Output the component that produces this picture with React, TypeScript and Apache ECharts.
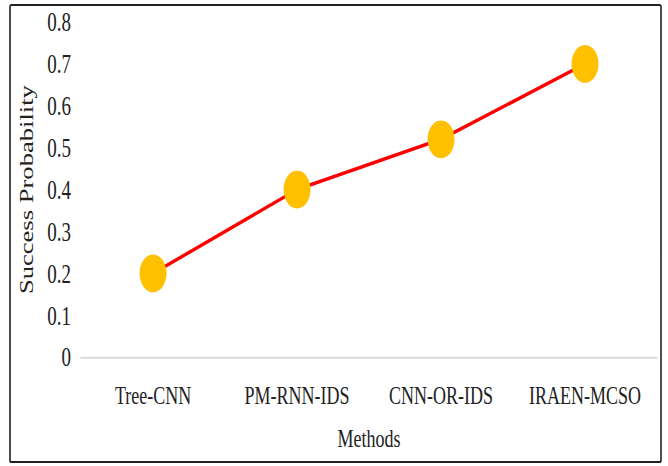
import React, { useEffect, useRef } from "react";
import * as echarts from "echarts";

const methods = ["Tree-CNN", "PM-RNN-IDS", "CNN-OR-IDS", "IRAEN-MCSO"];
const successProbability = [0.2, 0.4, 0.52, 0.7];
const yTicks = [0, 0.1, 0.2, 0.3, 0.4, 0.5, 0.6, 0.7, 0.8];

const FONT = "'Liberation Serif', 'Times New Roman', serif";
const WIDTH = 668;
const HEIGHT = 466;
// The figure is drawn in a shorter box and stretched vertically.
const STRETCH = 1.4;
const H = HEIGHT / STRETCH;

export default function App() {
  const ref = useRef<HTMLDivElement>(null);

  useEffect(() => {
    if (!ref.current) return;
    const chart = echarts.init(ref.current, undefined, { renderer: "svg" });
    chart.setOption({
      animation: false,
      backgroundColor: "#ffffff",
      graphic: [
        {
          type: "rect",
          shape: { x: 10, y: 5 / STRETCH, width: 651, height: 457 / STRETCH, r: 1.5 },
          style: { fill: "none", stroke: "#222222", lineWidth: 1.6 },
          z: 0,
        },
      ],
      grid: { left: 81, right: 11, top: 22 / STRETCH, bottom: (HEIGHT - 357) / STRETCH },
      xAxis: {
        type: "category",
        data: methods,
        boundaryGap: true,
        name: "Methods",
        nameLocation: "middle",
        nameGap: 49,
        nameTextStyle: { fontFamily: FONT, fontSize: 18, color: "#222" },
        axisLine: { lineStyle: { color: "#d9d9d9", width: 1.4 } },
        axisTick: { show: false },
        axisLabel: { fontFamily: FONT, fontSize: 18, color: "#222", margin: 18, interval: 0 },
      },
      yAxis: {
        type: "value",
        min: yTicks[0],
        max: yTicks[yTicks.length - 1],
        interval: 0.1,
        name: "Success Probability",
        nameLocation: "middle",
        nameGap: 42,
        nameTextStyle: { fontFamily: FONT, fontSize: 19, color: "#222" },
        axisLine: { show: false },
        axisTick: { show: false },
        splitLine: { show: false },
        axisLabel: {
          fontFamily: FONT,
          fontSize: 19,
          color: "#222",
          margin: 10,
          formatter: (v: number) => (Math.round(v * 10) / 10).toString(),
        },
      },
      series: [
        {
          type: "line",
          data: successProbability,
          lineStyle: { color: "#ff0000", width: 2.6 },
          itemStyle: { color: "#ffc000" },
          symbol: "circle",
          symbolSize: 27,
          z: 3,
        },
      ],
    });
    return () => chart.dispose();
  }, []);

  return (
    <div style={{ position: "fixed", left: 0, top: 0, width: WIDTH, height: HEIGHT, background: "#fff" }}>
      <div
        ref={ref}
        style={{
          width: WIDTH,
          height: H,
          transform: `scaleY(${STRETCH})`,
          transformOrigin: "0 0",
        }}
      />
    </div>
  );
}
